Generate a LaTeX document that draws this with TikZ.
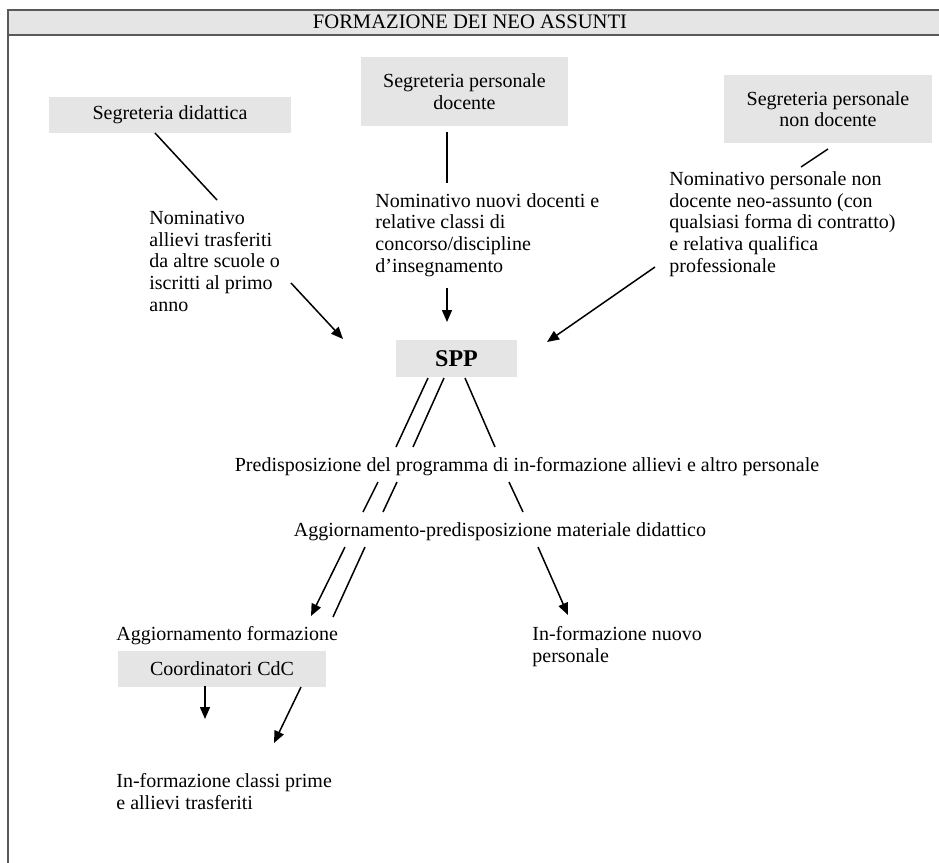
\documentclass[tikz,border=0pt]{standalone}
\usepackage{fontspec}
\setmainfont{Liberation Serif}
\usetikzlibrary{arrows.meta}
\begin{document}
\begin{tikzpicture}[x=0.5pt,y=-0.5pt,
    every node/.style={inner sep=0pt,font=\fontsize{10}{10.8}\selectfont},
    box/.style={fill=gray!20,align=center},
    txt/.style={anchor=base west,align=left},
    conn/.style={line width=0.75pt},
    arr/.style={conn,-{Triangle[length=6pt,width=5pt]}}]
    \useasboundingbox (0,0) rectangle (939,863);
    \fill[gray!20] (8,10) rectangle (939,35);
    \draw[line width=1pt,gray!70!black] (939,10)--(8,10)--(8,863);
    \draw[line width=1pt,gray!70!black] (8,35)--(939,35);
    \node (title) at (470,22) {\fontsize{10.3}{12}\selectfont FORMAZIONE DEI NEO ASSUNTI};
    \node[box,minimum width=121pt,minimum height=18pt] (sdid) at (170,115) {Segreteria didattica};
    \node[box,minimum width=103.5pt,minimum height=34.5pt] (sdoc) at (464.5,91.5) {Segreteria personale\\docente};
    \node[box,minimum width=104pt,minimum height=34pt] (snd) at (828,109) {Segreteria personale\\non docente};
    \node[box,minimum width=60.5pt,minimum height=18.5pt,font=\bfseries\fontsize{12}{14}\selectfont] (spp) at (456.5,358.5) {SPP};
    \node[box,minimum width=104pt,minimum height=18pt] (coord) at (222,669) {Coordinatori CdC};
    \node[txt] (nomall) at (149,311) {Nominativo\\allievi trasferiti\\da altre scuole o\\iscritti al primo\\anno};
    \node[txt] (nomdoc) at (375,272) {Nominativo nuovi docenti e\\relative classi di\\concorso/discipline\\d'insegnamento};
    \node[txt] (nomnd) at (669,272) {Nominativo personale non\\docente neo-assunto (con\\qualsiasi forma di contratto)\\e relativa qualifica\\professionale};
    \node[anchor=base] (prog) at (527,471) {Predisposizione del programma di in-formazione allievi e altro personale};
    \node[anchor=base] (mat) at (500,536) {Aggiornamento-predisposizione materiale didattico};
    \node[txt] (aggform) at (116,640) {Aggiornamento formazione};
    \node[txt] (infcl) at (116,809) {In-formazione classi prime\\e allievi trasferiti};
    \node[txt] (infnp) at (532,662) {In-formazione nuovo\\personale};
    \coordinate (a1) at (155,133); \coordinate (a2) at (217,200);
    \coordinate (a3) at (291,283); \coordinate (a4) at (343,339);
    \coordinate (b1) at (447,132); \coordinate (b2) at (447,183);
    \coordinate (b3) at (447,288); \coordinate (b4) at (447,322);
    \coordinate (c1) at (828,149); \coordinate (c2) at (801,167);
    \coordinate (c3) at (655,267); \coordinate (c4) at (547,342);
    \draw[conn] (a1)--(a2);
    \draw[arr] (a3)--(a4);
    \draw[conn] (b1)--(b2);
    \draw[arr] (b3)--(b4);
    \draw[conn] (c1)--(c2);
    \draw[arr] (c3)--(c4);
    \coordinate (d1) at (428,378); \coordinate (d2) at (396,447);
    \coordinate (d3) at (444,378); \coordinate (d4) at (413,447);
    \coordinate (d5) at (465,378); \coordinate (d6) at (495,447);
    \coordinate (e1) at (378,482); \coordinate (e2) at (363,512);
    \coordinate (e3) at (397,482); \coordinate (e4) at (383,512);
    \coordinate (e5) at (509,482); \coordinate (e6) at (523,512);
    \coordinate (f1) at (345,547); \coordinate (f2) at (311,616);
    \coordinate (f3) at (365,547); \coordinate (f4) at (333,617);
    \coordinate (f5) at (538,547); \coordinate (f6) at (568,615);
    \draw[conn] (d1)--(d2);
    \draw[conn] (d3)--(d4);
    \draw[conn] (d5)--(d6);
    \draw[conn] (e1)--(e2);
    \draw[conn] (e3)--(e4);
    \draw[conn] (e5)--(e6);
    \draw[arr] (f1)--(f2);
    \draw[conn] (f3)--(f4);
    \draw[arr] (f5)--(f6);
    \coordinate (g1) at (205,686); \coordinate (g2) at (205,719);
    \coordinate (g3) at (301,687); \coordinate (g4) at (274,743);
    \draw[arr] (g1)--(g2);
    \draw[arr] (g3)--(g4);
\end{tikzpicture}
\end{document}
